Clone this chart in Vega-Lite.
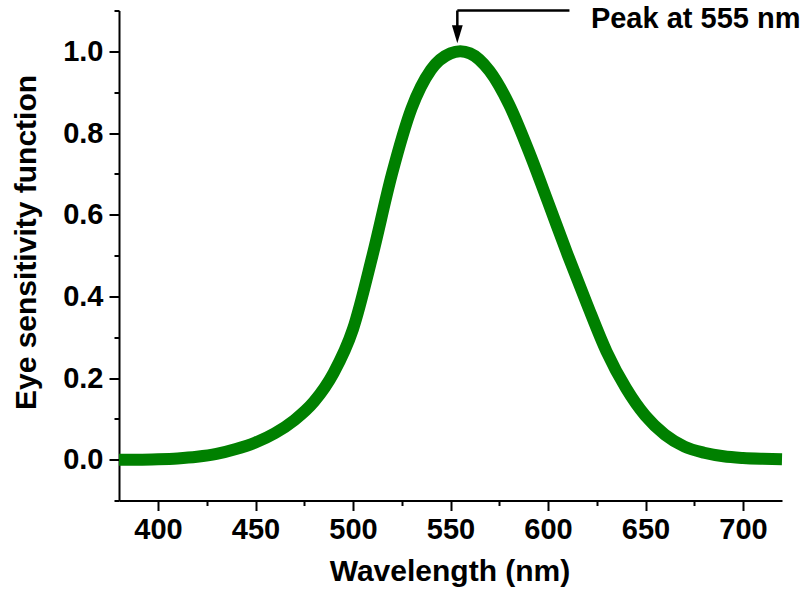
{
  "$schema": "https://vega.github.io/schema/vega-lite/v6.json",
  "width": 663,
  "height": 490,
  "autosize": {"type": "none"},
  "padding": {"left": 119, "top": 10.5, "right": 18, "bottom": 88.5},
  "background": "white",
  "config": {
    "view": {"stroke": null},
    "axis": {
      "domainColor": "black",
      "domainWidth": 2,
      "tickColor": "black",
      "tickWidth": 2,
      "grid": false,
      "labelFont": "Liberation Sans",
      "labelFontWeight": "bold",
      "labelFontSize": 29,
      "labelColor": "black",
      "labelOverlap": false,
      "labelFlush": false,
      "labelBound": false,
      "titleFont": "Liberation Sans",
      "titleFontWeight": "bold",
      "titleFontSize": 30,
      "titleColor": "black"
    }
  },
  "datasets": {
    "curve": [
      {"wavelength": 380, "value": 0.0},
      {"wavelength": 390, "value": 0.0},
      {"wavelength": 400, "value": 0.001},
      {"wavelength": 410, "value": 0.003},
      {"wavelength": 420, "value": 0.007},
      {"wavelength": 430, "value": 0.014},
      {"wavelength": 440, "value": 0.026},
      {"wavelength": 450, "value": 0.042},
      {"wavelength": 460, "value": 0.065},
      {"wavelength": 470, "value": 0.097},
      {"wavelength": 480, "value": 0.142},
      {"wavelength": 490, "value": 0.212},
      {"wavelength": 500, "value": 0.32},
      {"wavelength": 510, "value": 0.5},
      {"wavelength": 520, "value": 0.7},
      {"wavelength": 530, "value": 0.86},
      {"wavelength": 540, "value": 0.955},
      {"wavelength": 550, "value": 0.995},
      {"wavelength": 555, "value": 1.0},
      {"wavelength": 560, "value": 0.995},
      {"wavelength": 570, "value": 0.952},
      {"wavelength": 580, "value": 0.87},
      {"wavelength": 590, "value": 0.757},
      {"wavelength": 600, "value": 0.631},
      {"wavelength": 610, "value": 0.503},
      {"wavelength": 620, "value": 0.381},
      {"wavelength": 630, "value": 0.265},
      {"wavelength": 640, "value": 0.175},
      {"wavelength": 650, "value": 0.107},
      {"wavelength": 660, "value": 0.061},
      {"wavelength": 670, "value": 0.032},
      {"wavelength": 680, "value": 0.017},
      {"wavelength": 690, "value": 0.0082},
      {"wavelength": 700, "value": 0.0041},
      {"wavelength": 710, "value": 0.0021},
      {"wavelength": 720, "value": 0.001}
    ],
    "leader": [
      {"wavelength": 553.5, "wavelength2": 611, "value": 1.1, "value2": 1.1},
      {"wavelength": 553.5, "wavelength2": 553.5, "value": 1.1, "value2": 1.058}
    ],
    "arrowhead": [
      {"wavelength": 553.5, "value": 1.042}
    ],
    "note": [
      {"wavelength": 622, "value": 1.079, "label": "Peak at 555 nm"}
    ]
  },
  "encoding": {
    "x": {
      "field": "wavelength",
      "type": "quantitative",
      "scale": {"domain": [380, 720], "nice": false, "zero": false},
      "axis": {
        "title": "Wavelength (nm)",
        "values": [400, 425, 450, 475, 500, 525, 550, 575, 600, 625, 650, 675, 700],
        "labelExpr": "datum.value % 50 === 0 ? datum.label : ''",
        "tickSize": {"condition": {"test": "datum.value % 50 === 0", "value": 10}, "value": 5},
        "labelPadding": 5,
        "titleX": 330.5,
        "titleY": 79.5,
        "titleBaseline": "alphabetic"
      }
    },
    "y": {
      "field": "value",
      "type": "quantitative",
      "scale": {"domain": [-0.1, 1.1], "nice": false, "zero": false},
      "axis": {
        "title": "Eye sensitivity function",
        "values": [-0.1, 0, 0.1, 0.2, 0.3, 0.4, 0.5, 0.6, 0.7, 0.8, 0.9, 1.0, 1.1],
        "format": ".1f",
        "labelExpr": "abs(datum.value * 5 - round(datum.value * 5)) < 0.001 ? datum.label : ''",
        "tickSize": {"condition": {"test": "abs(datum.value * 5 - round(datum.value * 5)) < 0.001", "value": 10}, "value": 5},
        "labelPadding": 6,
        "titleX": -84,
        "titleY": 231.5,
        "titleBaseline": "alphabetic",
        "titleAlign": "center",
        "titleAngle": -90
      }
    }
  },
  "layer": [
    {
      "data": {"name": "curve"},
      "mark": {"type": "line", "color": "#008000", "strokeWidth": 12, "strokeCap": "butt", "interpolate": "monotone"}
    },
    {
      "data": {"name": "leader"},
      "mark": {"type": "rule", "color": "black", "strokeWidth": 2.5},
      "encoding": {
        "x2": {"field": "wavelength2"},
        "y2": {"field": "value2"}
      }
    },
    {
      "data": {"name": "arrowhead"},
      "mark": {"type": "point", "filled": true, "color": "black", "opacity": 1, "size": 324, "shape": "M-0.6,-1L0.6,-1L0,1Z"}
    },
    {
      "data": {"name": "note"},
      "mark": {"type": "text", "align": "left", "baseline": "middle", "font": "Liberation Sans", "fontWeight": "bold", "fontSize": 29, "color": "black"},
      "encoding": {"text": {"field": "label"}}
    }
  ]
}
